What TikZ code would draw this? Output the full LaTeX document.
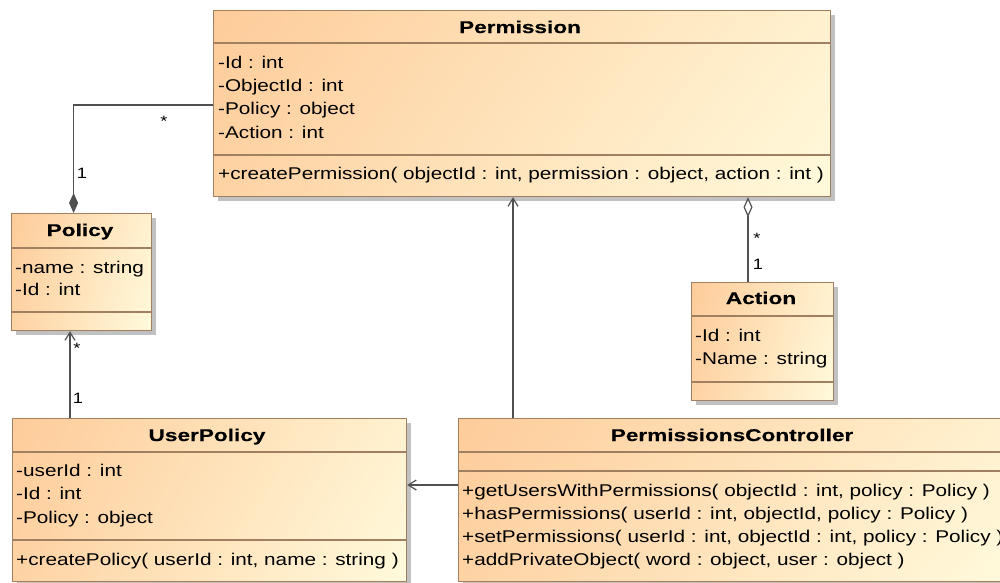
\documentclass[tikz,border=0pt]{standalone}
\usepackage{fontspec}
\setmainfont{Liberation Sans}[FakeStretch=1.22]
\newfontfamily\namefont{Liberation Sans}[FakeStretch=1.33, BoldFeatures={FakeStretch=1.33, FakeBold=0.4}]
\usetikzlibrary{arrows.meta,shadows,shadings}

\definecolor{boxorange}{RGB}{254,204,154}
\definecolor{boxpale}{RGB}{255,250,220}
\colorlet{boxleft}{boxorange!85!boxpale}
\colorlet{boxright}{boxpale!80!boxorange}
\definecolor{boxedge}{RGB}{160,128,96}
\definecolor{linkgray}{RGB}{80,80,80}

\tikzset{
  classbox/.style={draw=boxedge, line width=1.2pt, anchor=north west, inner sep=0pt,
    upper left=boxorange, upper right=boxright, lower left=boxleft, lower right=boxpale,
    drop shadow={shadow xshift=4pt, shadow yshift=-4pt, fill=black!30, opacity=0.8}},
  classname/.style={font=\fontsize{17}{17}\namefont\bfseries, anchor=base, inner sep=0pt},
  member/.style={font=\fontsize{17}{17}\selectfont, anchor=base west, inner sep=0pt},
  sep/.style={draw=boxedge, line width=1.2pt},
  link/.style={draw=linkgray, line width=1.2pt},
  mult/.style={font=\fontsize{15}{15}\selectfont, inner sep=0pt},
  navig/.style={link, -{Straight Barb[length=8pt,width=10pt]}},
}

\begin{document}
\begin{tikzpicture}[x=1pt,y=-1pt]
\useasboundingbox[fill=white] (0,0) rectangle (1000,582);

% class boxes
\node[classbox, minimum width=617pt, minimum height=186pt] (perm) at (213,10) {};
\node[classbox, minimum width=140pt, minimum height=117pt] (policy) at (11,213) {};
\node[classbox, minimum width=142pt, minimum height=118pt] (action) at (691,282) {};
\node[classbox, minimum width=394pt, minimum height=163pt] (up) at (12,418) {};
\node[classbox, minimum width=548pt, minimum height=163pt] (ctrl) at (458,418) {};

% compartment separators
\draw[sep] (perm.west |- 0,43) -- (perm.east |- 0,43);
\draw[sep] (perm.west |- 0,155) -- (perm.east |- 0,155);
\draw[sep] (policy.west |- 0,248) -- (policy.east |- 0,248);
\draw[sep] (policy.west |- 0,312) -- (policy.east |- 0,312);
\draw[sep] (action.west |- 0,316) -- (action.east |- 0,316);
\draw[sep] (action.west |- 0,382) -- (action.east |- 0,382);
\draw[sep] (up.west |- 0,452) -- (up.east |- 0,452);
\draw[sep] (up.west |- 0,540) -- (up.east |- 0,540);
\draw[sep] (ctrl.west |- 0,452) -- (ctrl.east |- 0,452);
\draw[sep] (ctrl.west |- 0,471) -- (ctrl.east |- 0,471);

% Permission
\node[classname] (permT) at (520,33) {Permission};
\node[member] (permA1) at (218,68) {-Id : int};
\node[member] (permA2) at (218,91) {-ObjectId : int};
\node[member] (permA3) at (218,114) {-Policy : object};
\node[member] (permA4) at (218,138) {-Action : int};
\node[member] (permM1) at (218,179) {+createPermission( objectId : int, permission : object, action : int )};

% Policy
\node[classname] (policyT) at (80,236) {Policy};
\node[member] (policyA1) at (15,273) {-name : string};
\node[member] (policyA2) at (15,295) {-Id : int};

% Action
\node[classname] (actionT) at (761,304) {Action};
\node[member] (actionA1) at (695,341) {-Id : int};
\node[member] (actionA2) at (695,364) {-Name : string};

% UserPolicy
\node[classname] (upT) at (207,441) {UserPolicy};
\node[member] (upA1) at (16,476) {-userId : int};
\node[member] (upA2) at (16,499) {-Id : int};
\node[member] (upA3) at (16,523) {-Policy : object};
\node[member] (upM1) at (16,565) {+createPolicy( userId : int, name : string )};

% PermissionsController
\node[classname] (ctrlT) at (732,441) {PermissionsController};
\node[member] (ctrlM1) at (462,496) {+getUsersWithPermissions( objectId : int, policy : Policy )};
\node[member] (ctrlM2) at (462,519) {+hasPermissions( userId : int, objectId, policy : Policy )};
\node[member] (ctrlM3) at (462,542) {+setPermissions( userId : int, objectId : int, policy : Policy )};
\node[member] (ctrlM4) at (462,565) {+addPrivateObject( word : object, user : object )};

% associations
\draw[link, -{Diamond[length=20pt,width=9pt,fill=linkgray]}]
  (perm.west |- 0,105) -| ([xshift=-8pt]policy.north);
\draw[link, {Diamond[open,length=20pt,width=9pt]}-] (perm.south -| 748,0) -- (action.north -| 748,0);
\draw[navig] (up.north -| 70,0) -- (policy.south -| 70,0);
\draw[navig] (ctrl.north -| 513,0) -- (perm.south -| 513,0);
\draw[navig] (ctrl.west |- 0,485) -- (up.east |- 0,485);

% multiplicities
\node[mult] (m1) at (164,121) {*};
\node[mult] (m2) at (82,173) {1};
\node[mult] (m3) at (77,348) {*};
\node[mult] (m4) at (78,398) {1};
\node[mult] (m5) at (757,238) {*};
\node[mult] (m6) at (758,264) {1};
\end{tikzpicture}
\end{document}
